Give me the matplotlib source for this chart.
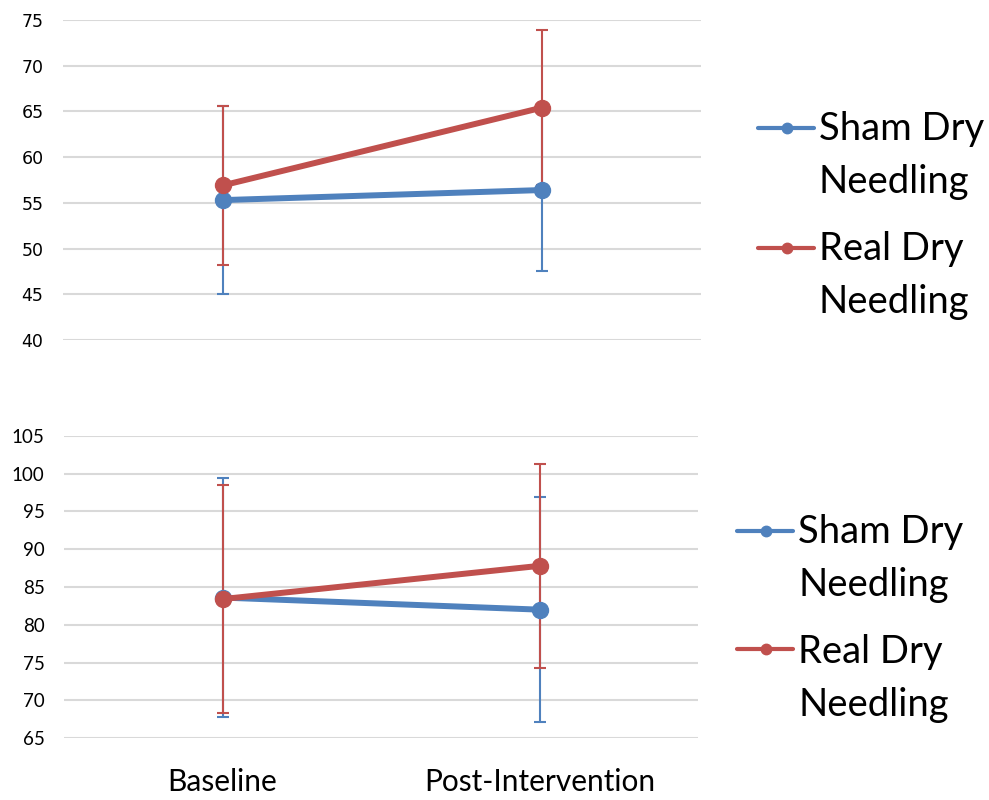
import matplotlib
matplotlib.use("Agg")
import matplotlib.pyplot as plt
from matplotlib.lines import Line2D

# categories and values
categories = ["Baseline", "Post-Intervention"]
series = [("Sham Dry", "Needling"), ("Real Dry", "Needling")]

top_sham = [55.3, 56.4]
top_sham_err = [10.3, 8.9]
top_real = [56.9, 65.4]
top_real_err = [8.7, 8.5]

bot_sham = [83.6, 82.0]
bot_sham_err = [15.8, 14.9]
bot_real = [83.4, 87.8]
bot_real_err = [15.1, 13.5]

top_ticks = [40, 45, 50, 55, 60, 65, 70, 75]
bot_ticks = [65, 70, 75, 80, 85, 90, 95, 100, 105]

BLUE = "#4F81BD"
RED = "#C0504D"
GRID = "#D9D9D9"
FONT = "Lato"
W, H = 989, 800

fig = plt.figure(figsize=(W / 100, H / 100), dpi=100)
ax1 = fig.add_axes([63/W, 1 - 340/H, 638/W, 320/H])
ax2 = fig.add_axes([64/W, 1 - 738/H, 634/W, 302/H])

x = list(range(len(categories)))


def draw(ax, data, ticks):
    for (y, err, c) in data:
        ax.errorbar(x, y, yerr=err, color=c, lw=4.3, marker="o", ms=11.5,
                    elinewidth=1.5, ecolor=c, capsize=4.3, capthick=1.5,
                    clip_on=False, zorder=3)
    ax.set_xlim(-0.5, 1.5)
    ax.set_ylim(ticks[0], ticks[-1])
    ax.set_yticks(ticks)
    for t in ticks:
        ax.axhline(t, color=GRID, lw=1.5, zorder=1)
    for s in ax.spines.values():
        s.set_visible(False)
    ax.tick_params(axis="y", length=0, pad=14)
    ax.tick_params(axis="x", length=0)


draw(ax1, [(top_sham, top_sham_err, BLUE),
           (top_real, top_real_err, RED)], top_ticks)
draw(ax2, [(bot_sham, bot_sham_err, BLUE),
           (bot_real, bot_real_err, RED)], bot_ticks)

ax1.set_xticks([])
for lab in ax1.get_yticklabels():
    lab.set_fontfamily("DejaVu Sans")
    lab.set_fontsize(12.5)

ax2.set_xticks(x)
ax2.set_xticklabels(categories, fontfamily=FONT, fontsize=21.5)
ax2.tick_params(axis="x", pad=38)
for lab in ax2.get_xticklabels():
    lab.set_verticalalignment("baseline")
for lab in ax2.get_yticklabels():
    lab.set_fontfamily(FONT)
    lab.set_fontsize(13.5)


# Excel-style legend: handle beside the first line of a wrapped label
def legend(x0, rows):
    for (base, hy), (l1, l2), c in zip(rows, series, [BLUE, RED]):
        fig.add_artist(Line2D([x0 / W, (x0 + 56) / W], [1 - hy / H] * 2,
                              transform=fig.transFigure, color=c, lw=3,
                              solid_capstyle="round"))
        fig.add_artist(Line2D([(x0 + 29) / W], [1 - hy / H],
                              transform=fig.transFigure, color=c, marker="o",
                              ms=7.5, lw=0))
        fig.text((x0 + 61) / W, 1 - base / H, l1, fontfamily=FONT,
                 fontsize=27.5, va="baseline")
        fig.text((x0 + 61) / W, 1 - (base + 53) / H, l2, fontfamily=FONT,
                 fontsize=27.5, va="baseline")


legend(758, [(140, 128), (260, 248)])
legend(737, [(543, 531), (663, 649)])

fig.savefig("out.png", dpi=100)
